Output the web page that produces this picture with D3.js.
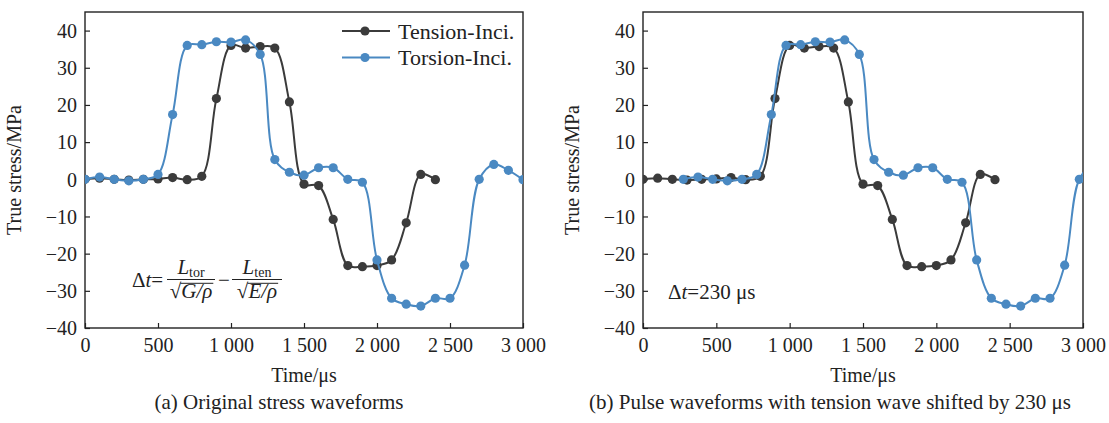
<!DOCTYPE html>
<html><head><meta charset="utf-8">
<script src="https://cdn.jsdelivr.net/npm/d3@7"></script>
<style>
body{margin:0;background:#fff;}
text{font-family:"Liberation Serif","Times New Roman",serif;fill:#222;}
</style></head>
<body><svg id="c" width="1109" height="423"></svg>
<script>
// ---- data ----
const timeTension = [0,100,200,300,400,500,600,700,800,900,1000,1100,1200,1300,1400,1500,1600,1700,1800,1900,2000,2100,2200,2300,2400];
const tensionInci = [0,0.3,0,-0.2,0,0.1,0.45,-0.1,0.8,21.7,36.0,35.3,35.7,35.3,20.8,-1.3,-1.7,-10.8,-23.2,-23.5,-23.2,-21.7,-11.7,1.3,-0.1];
const timeTorsion = [0,100,200,300,400,500,600,700,800,900,1000,1100,1200,1300,1400,1500,1600,1700,1800,1900,2000,2100,2200,2300,2400,2500,2600,2700,2800,2900,3000];
const torsionInci = [0,0.6,0,-0.4,0,1.3,17.4,36.0,36.2,37.0,36.9,37.5,33.6,5.3,1.9,1.1,3.1,3.1,0,-0.8,-21.7,-32.0,-33.6,-34.1,-32.0,-32.0,-23.1,0,4.0,2.4,-0.1];
const torsionShiftB = 275; // apparent shift of the torsion curve in panel (b)
const xTicks = [0,500,1000,1500,2000,2500,3000];
const yTicks = [-40,-30,-20,-10,0,10,20,30,40];
const seriesNames = ["Tension-Inci.","Torsion-Inci."];
const captions = ["(a) Original stress waveforms","(b) Pulse waveforms with tension wave shifted by 230 \u03bcs"];

const colTen = "#3b3b3b", colTor = "#4a89c2";
const svg = d3.select("#c");
const fmt = v => v >= 1000 ? d3.format(",")(v).replace(/,/g," ") : String(v);
const yFmt = v => v < 0 ? "\u2212" + Math.abs(v) : String(v);

function panel(idx, left, right, shift, capX) {
  const top = 12, bottom = 328;
  const x = d3.scaleLinear().domain([0,3000]).range([left,right]);
  const y = d3.scaleLinear().domain([-40,45]).range([bottom,top]);
  const g = svg.append("g");
  const cid = "clip" + idx;
  svg.append("clipPath").attr("id",cid).append("rect")
    .attr("x",left).attr("y",top).attr("width",right-left).attr("height",bottom-top);

  const ax = g.append("g").attr("transform",`translate(0,${bottom})`)
    .call(d3.axisBottom(x).tickValues(xTicks).tickSize(-5).tickPadding(10).tickFormat(fmt));
  const ay = g.append("g").attr("transform",`translate(${left},0)`)
    .call(d3.axisLeft(y).tickValues(yTicks).tickSize(-5).tickPadding(8).tickFormat(yFmt));
  [ax,ay].forEach(a=>{
    a.select(".domain").remove();
    a.selectAll("line").attr("stroke","#222").attr("stroke-width",1.2);
    a.selectAll("text").attr("font-size",20).attr("font-family","Liberation Serif").attr("fill","#222");
  });
  ay.selectAll("text").attr("dy","0.34em");
  ax.selectAll("text").attr("dy","0.72em");
  g.append("rect").attr("x",left).attr("y",top).attr("width",right-left).attr("height",bottom-top)
    .attr("fill","none").attr("stroke","#222").attr("stroke-width",1.4);

  const line = d3.line().curve(d3.curveCatmullRom.alpha(0.5)).x(d=>x(d[0])).y(d=>y(d[1]));
  const plot = g.append("g").attr("clip-path",`url(#${cid})`);
  const ten = timeTension.map((t,i)=>[t,tensionInci[i]]);
  const tor = timeTorsion.map((t,i)=>[t+shift,torsionInci[i]]);
  [[ten,colTen],[tor,colTor]].forEach(([d,c])=>{
    plot.append("path").attr("d",line(d)).attr("fill","none").attr("stroke",c).attr("stroke-width",2);
    plot.selectAll(null).data(d).enter().append("circle")
      .attr("cx",p=>x(p[0])).attr("cy",p=>y(p[1])).attr("r",4.6).attr("fill",c);
  });

  const cx = (left+right)/2;
  g.append("text").attr("x",cx).attr("y",382).attr("text-anchor","middle").attr("font-size",20).text("Time/\u03bcs");
  g.append("text").attr("transform",`translate(${left-64},${(top+bottom)/2}) rotate(-90)`)
    .attr("text-anchor","middle").attr("font-size",20).text("True stress/MPa");
  g.append("text").attr("x",capX).attr("y",409).attr("text-anchor","middle").attr("font-size",21).text(captions[idx]);
  return {x,y,g};
}

const A = panel(0, 85, 523, 0, 279);
const B = panel(1, 643, 1083, torsionShiftB, 830);

// legend in panel (a)
[[colTen,31],[colTor,57.5]].forEach(([c,yy],i)=>{
  A.g.append("line").attr("x1",342).attr("x2",390).attr("y1",yy).attr("y2",yy).attr("stroke",c).attr("stroke-width",2);
  A.g.append("circle").attr("cx",365).attr("cy",yy).attr("r",4.6).attr("fill",c);
  A.g.append("text").attr("x",398).attr("y",yy+7.5).attr("font-size",22).text(seriesNames[i]);
});

// formula in panel (a)
const F = A.g.append("g").attr("font-size",21);
const t0 = F.append("text").attr("x",132).attr("y",287);
t0.append("tspan").text("\u0394");
t0.append("tspan").attr("font-style","italic").text("t");
t0.append("tspan").text("=");
function frac(x1, x2, sub, sym) {
  F.append("line").attr("x1",x1).attr("x2",x2).attr("y1",279.5).attr("y2",279.5).attr("stroke","#222").attr("stroke-width",1);
  const c = (x1+x2)/2;
  const n = F.append("text").attr("x",c).attr("y",274).attr("text-anchor","middle");
  n.append("tspan").attr("font-style","italic").text("L");
  n.append("tspan").attr("font-size",14).attr("dy",3).text(sub);
  const d = F.append("text").attr("x",c).attr("y",298).attr("text-anchor","middle");
  d.append("tspan").text("\u221a");
  d.append("tspan").attr("font-style","italic").text(sym + "/\u03c1");
  const bb = d.node().getBBox();
  const rad = d.node().getSubStringLength(0,1);
  F.append("line").attr("x1",bb.x+rad-0.8).attr("x2",bb.x+bb.width+1).attr("y1",283.3).attr("y2",283.3)
    .attr("stroke","#222").attr("stroke-width",1);
}
frac(167, 215, "tor", "G");
F.append("text").attr("x",224).attr("y",287).attr("text-anchor","middle").text("\u2212");
frac(232, 282, "ten", "E");

// annotation in panel (b)
const tb = B.g.append("text").attr("x",668).attr("y",299).attr("font-size",21);
tb.append("tspan").text("\u0394");
tb.append("tspan").attr("font-style","italic").text("t");
tb.append("tspan").text("=230 \u03bcs");
</script></body></html>
